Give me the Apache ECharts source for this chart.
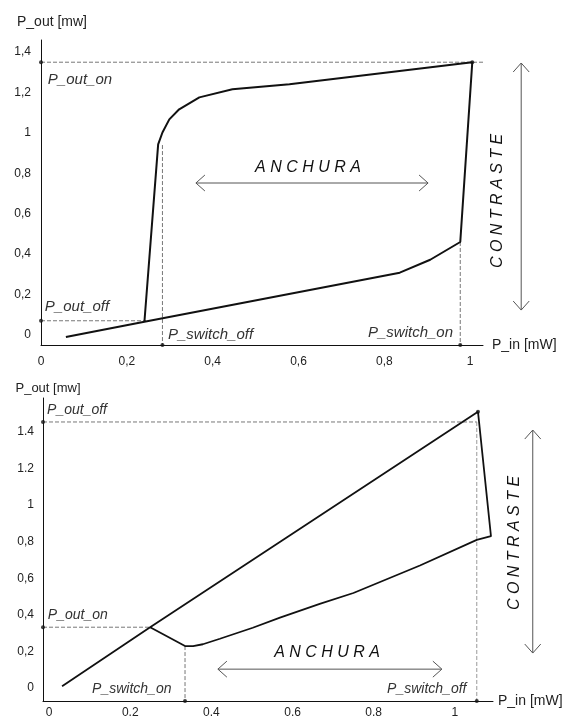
<!DOCTYPE html>
<html><head><meta charset="utf-8">
<script src="https://cdn.jsdelivr.net/npm/echarts@6/dist/echarts.min.js"></script>
<style>html,body{margin:0;padding:0;background:#fff}#c{width:569px;height:719px}</style>
</head><body><div id="c"></div>
<script>
// ---------- TOP CHART ----------
const topXTickValues = [0, 0.2, 0.4, 0.6, 0.8, 1];
const topXTickLabels = ['0', '0,2', '0,4', '0,6', '0,8', '1'];
const topYTickValues = [0, 0.2, 0.4, 0.6, 0.8, 1, 1.2, 1.4];
const topYTickLabels = ['0', '0,2', '0,4', '0,6', '0,8', '1', '1,2', '1,4'];
const topCurveX = [0.058, 0.241, 0.836, 0.907, 0.977, 1.005, 0.579, 0.446, 0.369, 0.322, 0.299, 0.283, 0.273, 0.241];
const topCurveY = [-0.01, 0.065, 0.308, 0.372, 0.46, 1.35, 1.241, 1.216, 1.176, 1.117, 1.067, 1.002, 0.943, 0.065];
const topPoutOn = 1.35;
const topPoutOff = 0.07;
const topSwitchOff = 0.283;
const topSwitchOn = 0.977;

// ---------- BOTTOM CHART ----------
const botXTickValues = [0, 0.2, 0.4, 0.6, 0.8, 1];
const botXTickLabels = ['0', '0.2', '0.4', '0.6', '0.8', '1'];
const botYTickValues = [0, 0.2, 0.4, 0.6, 0.8, 1, 1.2, 1.4];
const botYTickLabels = ['0', '0,2', '0,4', '0,6', '0,8', '1', '1.2', '1.4'];
const botCurveX = [0.032, 0.249, 1.057, 1.089, 1.054, 0.914, 0.75, 0.667, 0.569, 0.502, 0.421, 0.379, 0.355, 0.335, 0.249];
const botCurveY = [0.01, 0.333, 1.51, 0.83, 0.81, 0.67, 0.52, 0.46, 0.385, 0.33, 0.27, 0.24, 0.23, 0.23, 0.333];
const botPoutOff = 1.454;
const botPoutOn = 0.333;
const botSwitchOn = 0.335;
const botSwitchOff = 1.054;

// axis extents
const topX = [0, 1.03], topY = [-0.05, 1.46];
const botX = [-0.015, 1.094], botY = [-0.07, 1.585];

const zip = (xs, ys) => xs.map((x, i) => [x, ys[i]]);
const lookup = (vals, labs) => v => { const i = vals.findIndex(t => Math.abs(t - v) < 1e-6); return i < 0 ? '' : labs[i]; };

const chart = echarts.init(document.getElementById('c'), null, {renderer: 'canvas'});

const FONT = 'Liberation Sans, Arial, sans-serif';
const axisCommon = {
  axisLine: {show: true, onZero: false, lineStyle: {color: '#111', width: 1}},
  axisTick: {show: false},
  splitLine: {show: false}
};
const tickFont = {color: '#222', fontSize: 12, fontFamily: FONT};

const dashed = (gi, data, color) => ({
  type: 'line', xAxisIndex: gi, yAxisIndex: gi, data, showSymbol: false, silent: true,
  lineStyle: {color: color || '#777', width: 1, type: [4, 2]}, z: 1, animation: false
});
const curve = (gi, data, w) => ({
  type: 'line', xAxisIndex: gi, yAxisIndex: gi, data, showSymbol: false, silent: true,
  lineStyle: {color: '#111', width: w}, z: 3, animation: false
});
const dots = (gi, data) => ({
  type: 'scatter', xAxisIndex: gi, yAxisIndex: gi, data, symbolSize: 4, silent: true,
  itemStyle: {color: '#111'}, z: 4, animation: false
});

chart.setOption({
  animation: false,
  backgroundColor: '#fff',
  grid: [
    {left: 41, top: 40, width: 442, height: 305},
    {left: 43, top: 398, width: 450, height: 303}
  ],
  xAxis: [
    Object.assign({}, axisCommon, {type: 'value', gridIndex: 0, min: topX[0], max: topX[1],
      name: 'P_in [mW]', nameLocation: 'end', nameGap: 9,
      nameTextStyle: {color: '#222', fontSize: 14, fontFamily: FONT},
      axisLabel: Object.assign({customValues: topXTickValues, formatter: lookup(topXTickValues, topXTickLabels), margin: 11}, tickFont)}),
    Object.assign({}, axisCommon, {type: 'value', gridIndex: 1, min: botX[0], max: botX[1],
      name: 'P_in [mW]', nameLocation: 'end', nameGap: 5,
      nameTextStyle: {color: '#222', fontSize: 14, fontFamily: FONT},
      axisLabel: Object.assign({customValues: botXTickValues, formatter: lookup(botXTickValues, botXTickLabels), margin: 6}, tickFont)})
  ],
  yAxis: [
    Object.assign({}, axisCommon, {type: 'value', gridIndex: 0, min: topY[0], max: topY[1],
      name: 'P_out [mw]', nameLocation: 'end', nameGap: 11,
      nameTextStyle: {color: '#222', fontSize: 14, fontFamily: FONT, align: 'center', padding: [0, 0, 0, 22]},
      axisLabel: Object.assign({customValues: topYTickValues, formatter: lookup(topYTickValues, topYTickLabels), margin: 10}, tickFont)}),
    Object.assign({}, axisCommon, {type: 'value', gridIndex: 1, min: botY[0], max: botY[1],
      name: 'P_out [mw]', nameLocation: 'end', nameGap: 3,
      nameTextStyle: {color: '#222', fontSize: 13, fontFamily: FONT, align: 'center', padding: [0, 0, 0, 10]},
      axisLabel: Object.assign({customValues: botYTickValues, formatter: lookup(botYTickValues, botYTickLabels), margin: 9}, tickFont)})
  ],
  series: [
    dashed(0, [[topX[0], topPoutOn], [topX[1], topPoutOn]]),
    dashed(0, [[topX[0], topPoutOff], [topCurveX[1], topPoutOff]]),
    dashed(0, [[topSwitchOff, 0.94], [topSwitchOff, topY[0]]]),
    dashed(0, [[topSwitchOn, topCurveY[4]], [topSwitchOn, topY[0]]]),
    curve(0, zip(topCurveX, topCurveY), 2),
    dots(0, [[topX[0], topPoutOn], [topX[0], topPoutOff], [topSwitchOff, topY[0]], [topSwitchOn, topY[0]], [topCurveX[5], topCurveY[5]]]),

    dashed(1, [[botX[0], botPoutOff], [botSwitchOff, botPoutOff]]),
    dashed(1, [[botX[0], botPoutOn], [botCurveX[1], botPoutOn]]),
    dashed(1, [[botSwitchOn, botCurveY[13]], [botSwitchOn, botY[0]]]),
    dashed(1, [[botSwitchOff, botPoutOff], [botSwitchOff, botY[0]]], '#999'),
    curve(1, zip(botCurveX, botCurveY), 1.8),
    dots(1, [[botX[0], botPoutOff], [botX[0], botPoutOn], [botSwitchOn, botY[0]], [botSwitchOff, botY[0]], [botCurveX[2], botCurveY[2]]])
  ]
});

// ---------- annotations (anchored in data space) ----------
const topLabels = [
  {text: 'P_out_on', at: [0.016, 1.262]},
  {text: 'P_out_off', at: [0.009, 0.138]},
  {text: 'P_switch_off', at: [0.296, 0.0]},
  {text: 'P_switch_on', at: [0.762, 0.01]}
];
const botLabels = [
  {text: 'P_out_off', at: [-0.005, 1.519]},
  {text: 'P_out_on', at: [-0.003, 0.399]},
  {text: 'P_switch_on', at: [0.106, -0.005]},
  {text: 'P_switch_off', at: [0.833, -0.005]}
];
const topAnchura = {text: 'A N C H U R A', at: [0.622, 0.831], arrow: [[0.361, 0.752], [0.902, 0.752]]};
const topContraste = {text: 'C O N T R A S T E', at: [1.065, 0.663], arrow: [[1.119, 1.346], [1.119, 0.123]]};
const botAnchura = {text: 'A N C H U R A', at: [0.685, 0.197], arrow: [[0.416, 0.104], [0.968, 0.104]]};
const botContraste = {text: 'C O N T R A S T E', at: [1.148, 0.793], arrow: [[1.192, 1.410], [1.192, 0.192]]};

const px = (gi, p) => chart.convertToPixel({gridIndex: gi}, p);
const g = [];
function label(gi, l, size) {
  const p = px(gi, l.at);
  g.push({type: 'text', x: p[0], y: p[1], silent: true, z: 10,
    style: {text: l.text, fill: '#333', font: 'italic ' + size + 'px ' + FONT, align: 'left', verticalAlign: 'middle'}});
}
function arrow(gi, a) {
  const p1 = px(gi, a[0]), p2 = px(gi, a[1]);
  const dx = p2[0] - p1[0], dy = p2[1] - p1[1], L = Math.hypot(dx, dy);
  const ux = dx / L, uy = dy / L, nx = -uy, ny = ux, h = 9, w = 8;
  const st = {stroke: '#555', lineWidth: 1, fill: null};
  g.push({type: 'line', silent: true, shape: {x1: p1[0], y1: p1[1], x2: p2[0], y2: p2[1]}, style: st});
  g.push({type: 'polyline', silent: true, shape: {points: [
    [p1[0] + ux * h + nx * w, p1[1] + uy * h + ny * w], p1, [p1[0] + ux * h - nx * w, p1[1] + uy * h - ny * w]]}, style: st});
  g.push({type: 'polyline', silent: true, shape: {points: [
    [p2[0] - ux * h + nx * w, p2[1] - uy * h + ny * w], p2, [p2[0] - ux * h - nx * w, p2[1] - uy * h - ny * w]]}, style: st});
}
function bigText(gi, t, rot) {
  const p = px(gi, t.at);
  g.push({type: 'text', x: p[0], y: p[1], rotation: rot, silent: true, z: 10,
    style: {text: t.text, fill: '#111', font: 'italic 16px ' + FONT, align: 'center', verticalAlign: 'middle'}});
  arrow(gi, t.arrow);
}
topLabels.forEach(l => label(0, l, 15));
botLabels.forEach(l => label(1, l, 14));
bigText(0, topAnchura, 0);
bigText(0, topContraste, Math.PI / 2);
bigText(1, botAnchura, 0);
bigText(1, botContraste, Math.PI / 2);
chart.setOption({graphic: g});
</script></body></html>
